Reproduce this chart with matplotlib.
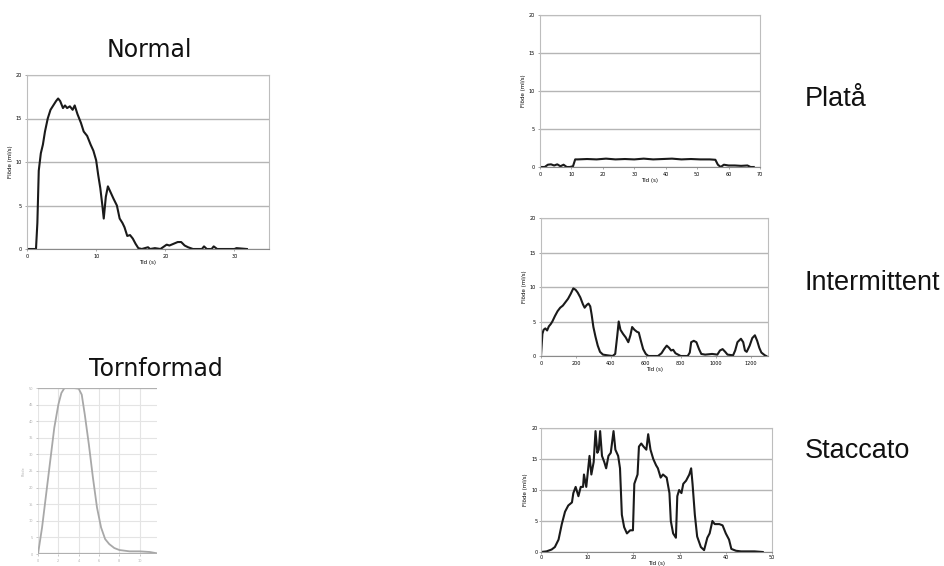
import matplotlib
matplotlib.use("Agg")
import matplotlib.pyplot as plt

W, H = 945, 566

# --- data ---
normal_t = [0, 1.3, 1.5, 1.7, 2.0, 2.3, 2.6, 3.0, 3.4, 3.8,
            4.2, 4.5, 4.8, 5.2, 5.5, 5.8, 6.2, 6.6, 6.9, 7.3,
            7.8, 8.2, 8.7, 9.2, 9.6, 10.0, 10.3, 10.6, 10.9, 11.1,
            11.4, 11.7, 12.1, 12.5, 13.0, 13.4, 13.8, 14.1, 14.5, 14.9,
            15.3, 15.7, 16.1, 16.6, 17.5, 17.8, 18.5, 19.3, 20.2, 20.6,
            21.2, 21.8, 22.3, 22.8, 23.3, 24.0, 25.3, 25.6, 26.0, 26.7,
            27.0, 27.5, 28.5, 30.0, 30.3, 31.8]
normal_v = [0, 0, 3, 9, 11, 12, 13.5, 15, 16, 16.5,
            17, 17.3, 17, 16.2, 16.5, 16.2, 16.4, 16.0, 16.5, 15.5,
            14.5, 13.5, 13, 12, 11.3, 10.2, 8.5, 7, 5, 3.5,
            6, 7.2, 6.5, 5.8, 5, 3.5, 3.0, 2.5, 1.5, 1.6,
            1.2, 0.6, 0.1, 0, 0.2, 0, 0.1, 0, 0.5, 0.4,
            0.6, 0.8, 0.8, 0.4, 0.2, 0, 0, 0.3, 0, 0,
            0.3, 0, 0, 0, 0.1, 0]

torn_t = [0, 0.4, 0.8, 1.2, 1.6, 2.0, 2.3, 2.6, 3.0, 3.5,
          4.0, 4.3, 4.6, 5.0, 5.4, 5.8, 6.2, 6.6, 7.0, 7.5,
          8, 9, 10, 11, 11.7]
torn_v = [0, 8, 18, 28, 38, 45, 48.5, 50, 50, 50,
          49.8, 48, 42, 33, 23, 14, 8, 4.5, 3, 1.8,
          1.2, 0.8, 0.8, 0.6, 0.2]

plata_t = [0, 1.5, 2.5, 3.5, 4.5, 5.5, 6.5, 7.5, 8.5, 9.5,
           10.5, 11.2, 12, 15, 18, 21, 24, 27, 30, 33,
           36, 39, 42, 45, 48, 51, 54, 55.8, 56.6, 57.5,
           58.5, 60, 62, 64, 66, 67, 68]
plata_v = [0, 0, 0.3, 0.35, 0.2, 0.35, 0.1, 0.3, 0, 0,
           0.1, 1.0, 1.0, 1.05, 1.0, 1.1, 1.0, 1.05, 1.0, 1.1,
           1.0, 1.05, 1.1, 1.0, 1.05, 1.0, 1.0, 0.95, 0.3, 0,
           0.3, 0.2, 0.2, 0.15, 0.2, 0, 0]

inter_t = [0, 8, 15, 25, 35, 45, 55, 65, 80, 95,
           110, 125, 140, 155, 170, 185, 198, 210, 225, 240,
           250, 262, 272, 282, 290, 300, 312, 325, 338, 355,
           380, 410, 425, 437, 445, 455, 470, 485, 500, 512,
           522, 535, 550, 560, 572, 585, 600, 615, 670, 690,
           705, 720, 733, 745, 757, 770, 785, 800, 840, 852,
           860, 875, 890, 905, 918, 940, 980, 1010, 1025, 1040,
           1055, 1068, 1100, 1112, 1125, 1145, 1158, 1168, 1178, 1195,
           1210, 1225, 1238, 1250, 1262, 1272, 1282, 1290]
inter_v = [0, 3.2, 3.8, 4.0, 3.7, 4.3, 4.6, 5.0, 5.8, 6.5,
           7.0, 7.3, 7.8, 8.3, 9.0, 9.8, 9.6, 9.2, 8.5, 7.5,
           7.0, 7.4, 7.6, 7.2, 6.0, 4.2, 2.8, 1.5, 0.6, 0.2,
           0.1, 0, 0.3, 3.0, 5.0, 3.8, 3.2, 2.7, 2.0, 3.0,
           4.2, 3.8, 3.5, 3.4, 2.2, 1.0, 0.3, 0, 0, 0.4,
           1.0, 1.5, 1.2, 0.8, 0.9, 0.4, 0.2, 0, 0, 0.5,
           2.0, 2.2, 2.0, 1.0, 0.3, 0.2, 0.3, 0.2, 0.8, 1.0,
           0.6, 0.2, 0.1, 0.8, 2.0, 2.5, 2.0, 0.8, 0.6, 1.5,
           2.6, 3.0, 2.2, 1.2, 0.5, 0.3, 0.1, 0]

stacc_t = [0, 1.2, 2.3, 3.0, 3.8, 4.5, 5.2, 5.9, 6.7, 7.0,
           7.5, 8.1, 8.6, 9.1, 9.3, 9.8, 10.5, 10.9, 11.4, 11.8,
           12.2, 12.5, 12.8, 13.2, 13.7, 14.1, 14.6, 15.1, 15.7, 16.1,
           16.7, 17.1, 17.5, 18.0, 18.6, 19.3, 19.9, 20.2, 20.9, 21.2,
           21.7, 22.2, 22.8, 23.2, 23.7, 24.3, 24.9, 25.3, 25.9, 26.4,
           27.2, 27.8, 28.1, 28.6, 29.2, 29.5, 29.9, 30.4, 30.8, 31.4,
           32.1, 32.5, 32.8, 33.3, 33.8, 34.6, 35.3, 36.0, 36.5, 37.1,
           37.6, 38.6, 39.3, 40.0, 40.7, 41.2, 42.2, 43.3, 44.7, 46.2,
           48.0]
stacc_v = [0, 0.1, 0.4, 0.8, 2.0, 4.5, 6.5, 7.5, 8.0, 9.5,
           10.5, 9.0, 10.5, 10.5, 12.5, 10.5, 15.5, 12.5, 14.5, 19.5,
           16.0, 16.5, 19.5, 15.5, 14.5, 13.5, 15.5, 16.0, 19.5, 16.5,
           15.5, 13.5, 6.0, 4.0, 3.0, 3.5, 3.5, 11.0, 12.5, 17.0,
           17.5, 17.0, 16.5, 19.0, 16.5, 15.0, 14.0, 13.5, 12.0, 12.5,
           12.0, 9.5, 5.0, 3.0, 2.3, 9.0, 10.0, 9.5, 11.0, 11.5,
           12.5, 13.5, 11.0, 6.0, 2.5, 0.8, 0.3, 2.3, 3.0, 5.0,
           4.5, 4.5, 4.3, 3.0, 2.0, 0.5, 0.2, 0.1, 0.1, 0.1,
           0]

flow_yticks = [0, 5, 10, 15, 20]
torn_yticks = [0, 5, 10, 15, 20, 25, 30, 35, 40, 45, 50]
torn_xticks = [0, 2, 4, 6, 8, 10]


def box(l, t, r, b):
    return [l / W, 1 - b / H, (r - l) / W, (b - t) / H]


def flow_axes(fig, rect, t, v, xmax, xstep, pad=2):
    ax = fig.add_axes(box(*rect))
    ax.plot(t, v, color="#1a1a1a", lw=1.5)
    ax.set_xlim(0, xmax)
    ax.set_ylim(0, 20)
    ax.set_yticks(flow_yticks)
    ax.set_xticks(list(range(0, int(xmax) + 1, xstep)))
    ax.yaxis.grid(True, color="#b5b5b5", lw=1)
    ax.set_axisbelow(True)
    for s in ax.spines.values():
        s.set_color("#bdbdbd")
        s.set_linewidth(0.8)
    ax.spines["bottom"].set_color("#8a8a8a")
    ax.tick_params(labelsize=3.5, length=1.5, width=0.5, color="#888888", pad=pad)
    ax.set_xlabel("Tid (s)", fontsize=4, labelpad=pad * 0.5)
    ax.set_ylabel("Flöde (ml/s)", fontsize=4, labelpad=2)
    return ax


fig = plt.figure(figsize=(W / 100, H / 100), dpi=100)

flow_axes(fig, (27, 75, 269, 249), normal_t, normal_v, 35, 10)
flow_axes(fig, (540, 15, 760, 167), plata_t, plata_v, 70, 10)
flow_axes(fig, (541, 218, 768, 356), inter_t, inter_v, 1300, 200)
flow_axes(fig, (541, 428, 772, 552), stacc_t, stacc_v, 50, 10, pad=1)

# faded "tornformad" chart
ax = fig.add_axes(box(38, 388, 157, 554))
ax.plot(torn_t, torn_v, color="#a8a8a8", lw=1.3)
ax.set_xlim(0, 11.7)
ax.set_ylim(0, 50)
ax.set_yticks(torn_yticks)
ax.set_xticks(torn_xticks)
ax.grid(True, color="#e4e4e4", lw=0.8)
ax.set_axisbelow(True)
for s in ax.spines.values():
    s.set_visible(False)
ax.axhline(50, color="#b0b0b0", lw=1.6)
ax.axhline(0, color="#b0b0b0", lw=1.6)
ax.tick_params(labelsize=2.5, length=1.5, width=0.5, colors="#b0b0b0", pad=2)
ax.set_ylabel("Flöde", fontsize=2.5, color="#b0b0b0", labelpad=2)

# captions
fig.text(149 / W, 1 - 50 / H, "Normal", fontsize=17, family="DejaVu Sans",
         ha="center", va="center", color="#111111")
fig.text(156 / W, 1 - 369 / H, "Tornformad", fontsize=17, family="DejaVu Sans",
         ha="center", va="center", color="#111111")
for label, y in [("Platå", 99), ("Intermittent", 283), ("Staccato", 451)]:
    fig.text(805 / W, 1 - y / H, label, fontsize=19.5, family="Liberation Sans",
             ha="left", va="center", color="#111111")

fig.savefig("out.png", dpi=100)
